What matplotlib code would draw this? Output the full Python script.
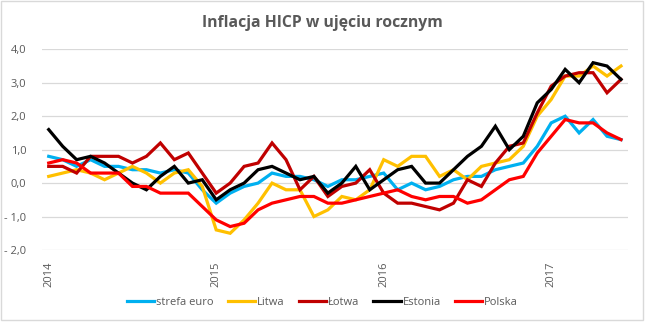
import matplotlib
matplotlib.use("Agg")
import matplotlib.pyplot as plt
from matplotlib.patches import Rectangle
from matplotlib.ticker import FuncFormatter, FixedLocator

plt.rcParams['font.family'] = ['Open Sans', 'DejaVu Sans']

# miesiace: styczen 2014 - czerwiec 2017
years = ['2014', '2015', '2016', '2017']
year_pos = [0, 12, 24, 36]

strefa_euro = [0.8, 0.7, 0.5, 0.7, 0.5, 0.5, 0.4, 0.4, 0.3, 0.4, 0.3, -0.2,
               -0.6, -0.3, -0.1, 0.0, 0.3, 0.2, 0.2, 0.1, -0.1, 0.1, 0.1, 0.2,
               0.3, -0.2, 0.0, -0.2, -0.1, 0.1, 0.2, 0.2, 0.4, 0.5, 0.6, 1.1,
               1.8, 2.0, 1.5, 1.9, 1.4, 1.3]
litwa = [0.2, 0.3, 0.4, 0.3, 0.1, 0.3, 0.5, 0.3, 0.0, 0.3, 0.4, -0.1,
         -1.4, -1.5, -1.1, -0.6, 0.0, -0.2, -0.2, -1.0, -0.8, -0.4, -0.5, -0.2,
         0.7, 0.5, 0.8, 0.8, 0.2, 0.4, 0.1, 0.5, 0.6, 0.7, 1.1, 2.0,
         2.5, 3.2, 3.2, 3.5, 3.2, 3.5]
lotwa = [0.5, 0.5, 0.3, 0.8, 0.8, 0.8, 0.6, 0.8, 1.2, 0.7, 0.9, 0.3,
         -0.3, 0.0, 0.5, 0.6, 1.2, 0.7, -0.2, 0.2, -0.4, -0.1, 0.0, 0.4,
         -0.3, -0.6, -0.6, -0.7, -0.8, -0.6, 0.1, -0.1, 0.6, 1.1, 1.2, 2.1,
         2.9, 3.2, 3.3, 3.3, 2.7, 3.1]
estonia = [1.6, 1.1, 0.7, 0.8, 0.6, 0.3, 0.0, -0.2, 0.2, 0.5, 0.0, 0.1,
           -0.5, -0.2, 0.0, 0.4, 0.5, 0.3, 0.1, 0.2, -0.3, 0.0, 0.5, -0.2,
           0.1, 0.4, 0.5, 0.0, 0.0, 0.4, 0.8, 1.1, 1.7, 1.0, 1.4, 2.4,
           2.8, 3.4, 3.0, 3.6, 3.5, 3.1]
polska = [0.6, 0.7, 0.6, 0.3, 0.3, 0.3, -0.1, -0.1, -0.3, -0.3, -0.3, -0.7,
          -1.1, -1.3, -1.2, -0.8, -0.6, -0.5, -0.4, -0.4, -0.6, -0.6, -0.5, -0.4,
          -0.3, -0.2, -0.4, -0.5, -0.4, -0.4, -0.6, -0.5, -0.2, 0.1, 0.2, 0.9,
          1.4, 1.9, 1.8, 1.8, 1.5, 1.3]

series = [('strefa euro', strefa_euro, '#00B0F0'),
          ('Litwa', litwa, '#FFC000'),
          ('Łotwa', lotwa, '#C00000'),
          ('Estonia', estonia, '#000000'),
          ('Polska', polska, '#FF0000')]

fig = plt.figure(figsize=(6.45, 3.25), dpi=100)
ax = fig.add_axes([0.0647, 0.2308, 0.9089, 0.6175])

months = list(range(len(strefa_euro)))
for name, vals, col in series:
    ax.plot(months, vals, color=col, lw=2.3, label=name, solid_joinstyle='miter')

ax.set_xlim(-0.5, len(months) - 0.5)
ax.set_ylim(-2, 4)
ax.set_yticks([-2, -1, 0, 1, 2, 3, 4])


def fmt(v, pos):
    s = f"{abs(v):.1f}".replace('.', ',')
    return "- " + s if v < 0 else s


ax.yaxis.set_major_formatter(FuncFormatter(fmt))
ax.xaxis.set_major_locator(FixedLocator(year_pos))
ax.set_xticklabels(years, rotation=90, va='top', ha='center')
ax.tick_params(axis='both', length=0, labelsize=8, labelcolor='#595959')
ax.tick_params(axis='y', pad=11)
ax.tick_params(axis='x', pad=8)
ax.grid(axis='y', color='#D9D9D9', lw=0.9)
ax.set_axisbelow(True)
for sp in ax.spines.values():
    sp.set_visible(False)

fig.text(0.5, 0.905, 'Inflacja HICP w ujęciu rocznym', ha='center', va='bottom',
         fontsize=11.3, fontweight='bold', color='#595959')

fig.legend(loc='center', bbox_to_anchor=(0.5, 0.07), ncol=5, frameon=False,
           fontsize=8, handlelength=2.45, handletextpad=0.2, columnspacing=1.25,
           labelcolor='#595959')

fig.patches.append(Rectangle((1 / 645, 5 / 325), 642 / 645, 319 / 325,
                             transform=fig.transFigure, fill=False,
                             edgecolor='#D9D9D9', lw=1))

fig.savefig('out.png', dpi=100)
